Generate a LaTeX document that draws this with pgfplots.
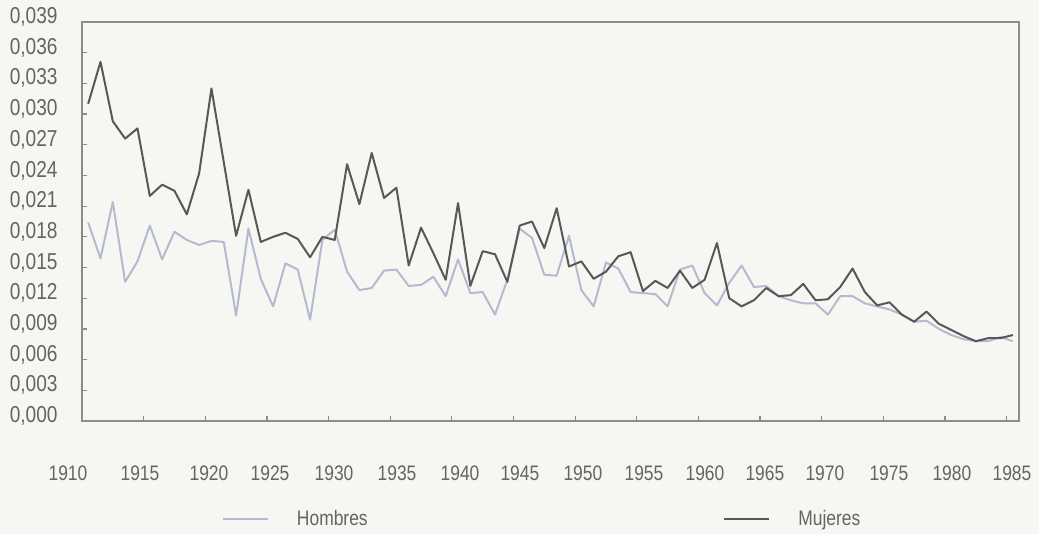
\documentclass[border=0pt]{standalone}
\usepackage{pgfplots}
\pgfplotsset{compat=1.18}
\usepackage{pgfplotstable}
\usepackage{fontspec}
\setmainfont{Liberation Sans}[FakeStretch=0.83]
\definecolor{bg}{RGB}{246,247,243}
\definecolor{axisgray}{RGB}{140,140,140}
\definecolor{txt}{RGB}{100,100,100}
\definecolor{hom}{RGB}{180,186,208}
\definecolor{muj}{RGB}{88,88,88}

% values in thousandths (0.001)
\pgfplotstableread{
year hom muj
1910.5 19.4 31.0
1911.5 15.9 35.1
1912.5 21.4 29.3
1913.5 13.6 27.6
1914.5 15.6 28.6
1915.5 19.1 22.0
1916.5 15.8 23.1
1917.5 18.5 22.5
1918.5 17.7 20.2
1919.5 17.2 24.2
1920.5 17.6 32.5
1921.5 17.5 25.3
1922.5 10.3 18.1
1923.5 18.8 22.6
1924.5 13.9 17.5
1925.5 11.2 18.0
1926.5 15.4 18.4
1927.5 14.8 17.8
1928.5 9.9 16.0
1929.5 17.7 18.0
1930.5 18.7 17.7
1931.5 14.6 25.1
1932.5 12.8 21.2
1933.5 13.0 26.2
1934.5 14.7 21.8
1935.5 14.8 22.8
1936.5 13.2 15.2
1937.5 13.3 18.9
1938.5 14.1 16.4
1939.5 12.2 13.8
1940.5 15.8 21.3
1941.5 12.5 13.2
1942.5 12.6 16.6
1943.5 10.4 16.3
1944.5 13.8 13.6
1945.5 18.8 19.1
1946.5 17.9 19.5
1947.5 14.3 16.9
1948.5 14.2 20.8
1949.5 18.1 15.1
1950.5 12.8 15.6
1951.5 11.2 13.9
1952.5 15.5 14.6
1953.5 14.9 16.1
1954.5 12.6 16.5
1955.5 12.5 12.7
1956.5 12.4 13.7
1957.5 11.2 13.0
1958.5 14.8 14.7
1959.5 15.2 13.0
1960.5 12.5 13.8
1961.5 11.3 17.4
1962.5 13.5 12.0
1963.5 15.2 11.2
1964.5 13.1 11.8
1965.5 13.2 13.0
1966.5 12.2 12.2
1967.5 11.8 12.3
1968.5 11.5 13.4
1969.5 11.5 11.8
1970.5 10.4 11.9
1971.5 12.2 13.1
1972.5 12.2 14.9
1973.5 11.5 12.6
1974.5 11.2 11.3
1975.5 10.9 11.6
1976.5 10.4 10.4
1977.5 9.7 9.7
1978.5 9.8 10.7
1979.5 9.0 9.5
1980.5 8.4 8.9
1981.5 8.0 8.3
1982.5 7.8 7.8
1983.5 7.8 8.1
1984.5 8.2 8.1
1985.5 7.8 8.4
}\data

\begin{document}
\begin{tikzpicture}
\path[use as bounding box, fill=bg] (0,0) rectangle (519.5pt,267pt);
\begin{axis}[
  at={(41pt,56.5pt)}, anchor=south west, scale only axis,
  width=468.5pt, height=199.5pt,
  xmin=1910, xmax=1986, ymin=0, ymax=39,
  axis line style={axisgray, line width=0.75pt},
  tick style={axisgray, line width=0.6pt},
  major tick length=2.5pt,
  tick align=inside, xtick pos=bottom, ytick pos=left,
  xtick={1915,1920,...,1985}, xticklabels={},
  ytick={0,3,6,9,12,15,18,21,24,27,30,33,36,39},
  yticklabels={{0,000},{0,003},{0,006},{0,009},{0,012},{0,015},{0,018},{0,021},{0,024},{0,027},{0,030},{0,033},{0,036},{0,039}},
  yticklabel style={font=\fontsize{11.5}{13}\selectfont, text=txt, anchor=east, inner sep=0pt, xshift=-12pt, yshift=2.5pt},
  legend style={at={(0.1494,-0.2456)}, anchor=west, draw=none, fill=none, inner sep=0pt, outer sep=0pt,
    nodes={inner sep=0pt, text=txt, font=\fontsize{10.5}{12}\selectfont},
    /tikz/every odd column/.append style={column sep=14pt}},
  legend image code/.code={\draw[#1] (0pt,0pt) -- (22.5pt,0pt);},
]
\addplot[hom, line width=1pt, line join=round] table[x=year, y=hom] {\data};
\addlegendentry{Hombres}
\addplot[muj, line width=1pt, line join=round, forget plot] table[x=year, y=muj] {\data};
\end{axis}
% overlay axis for the x labels (same scale, wider range so that 1910 label fits)
\begin{axis}[
  at={(10.18pt,56.5pt)}, anchor=south west, scale only axis,
  width=499.32pt, height=199.5pt,
  xmin=1905, xmax=1986, ymin=0, ymax=39,
  axis line style={draw=none}, tick style={draw=none}, major tick length=0pt,
  ytick=\empty,
  xtick={1908.86,1914.70,1920.30,1925.25,1930.44,1935.55,1940.66,1945.52,1950.63,1955.58,1960.53,1965.39,1970.26,1975.45,1980.56,1985.43},
  xticklabels={1910,1915,1920,1925,1930,1935,1940,1945,1950,1955,1960,1965,1970,1975,1980,1985},
  xticklabel style={font=\fontsize{10.5}{12}\selectfont, text=txt, anchor=north, inner sep=0pt, yshift=-22pt},
  clip=false,
  legend style={at={(0.7039,-0.2456)}, anchor=west, draw=none, fill=none, inner sep=0pt, outer sep=0pt,
    nodes={inner sep=0pt, text=txt, font=\fontsize{10.5}{12}\selectfont},
    /tikz/every odd column/.append style={column sep=14pt}},
  legend image code/.code={\draw[#1] (0pt,0pt) -- (22.5pt,0pt);},
]
\addlegendimage{muj, line width=1pt}
\addlegendentry{Mujeres}
\end{axis}
\end{tikzpicture}
\end{document}
